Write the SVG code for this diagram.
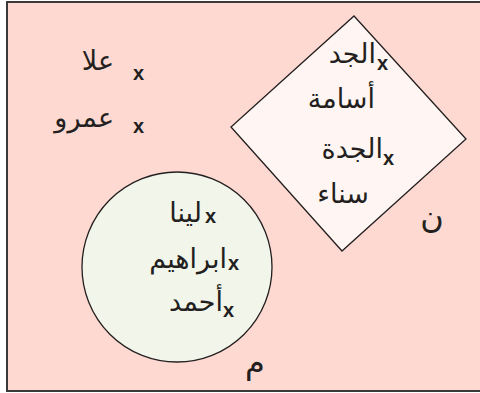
<svg xmlns="http://www.w3.org/2000/svg" width="480" height="393" viewBox="0 0 480 393">
<style>
.ar{font-family:"DejaVu Sans","Noto Sans",sans-serif;font-size:27px;fill:#231f20;text-anchor:end}
.x{font-family:"Liberation Sans",Arial,sans-serif;font-size:20px;font-weight:bold;fill:#231f20}
.lab{font-family:"DejaVu Sans","Noto Sans",sans-serif;font-size:32px;fill:#231f20;text-anchor:middle}
</style>
<g id="universe">
<rect x="7" y="2" width="480" height="389" fill="#fdd9d1" stroke="#3a3a3a" stroke-width="2"/>
<text class="ar" x="114" y="70">علا</text>
<text class="x" x="133" y="80">x</text>
<text class="ar" x="114" y="127">عمرو</text>
<text class="x" x="133" y="133">x</text>
</g>
<g id="set-n">
<polygon points="354,16 466,139 342,251 231,127" fill="#fff5f2" stroke="#231f20" stroke-width="1.3"/>
<text class="ar" x="376" y="63">الجد</text>
<text class="x" x="377" y="70">x</text>
<text class="ar" x="375" y="108">أسامة</text>
<text class="ar" x="383" y="158">الجدة</text>
<text class="x" x="383" y="165">x</text>
<text class="ar" x="369" y="203">سناء</text>
<text class="lab" x="432" y="228">ن</text>
</g>
<g id="set-m">
<circle cx="177" cy="267" r="95" fill="#f2f5ea" stroke="#231f20" stroke-width="1.3"/>
<text class="ar" x="202" y="222">لينا</text>
<text class="x" x="205" y="223">x</text>
<text class="ar" x="227" y="268">ابراهيم</text>
<text class="x" x="228" y="270">x</text>
<text class="ar" x="223" y="311">أحمد</text>
<text class="x" x="223" y="317">x</text>
<text class="lab" x="255" y="373">م</text>
</g>
</svg>
